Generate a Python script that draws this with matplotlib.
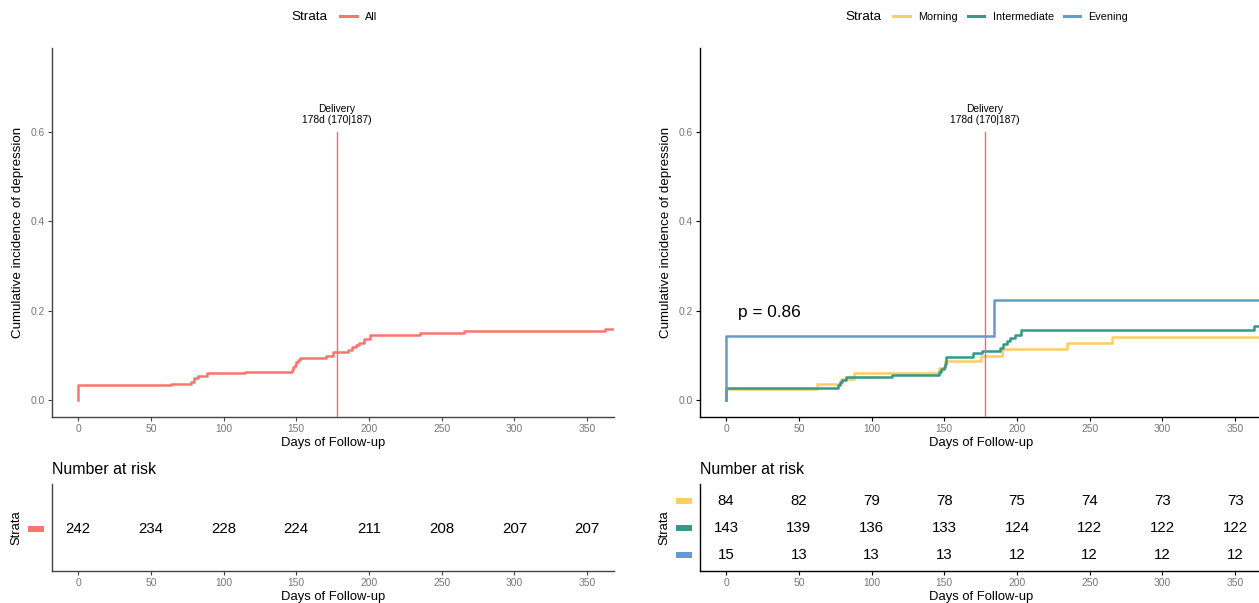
import numpy as np
import matplotlib
matplotlib.use('Agg')
import matplotlib.pyplot as plt
from matplotlib.lines import Line2D
from matplotlib.patches import Rectangle
from matplotlib.transforms import blended_transform_factory

plt.rcParams['font.family'] = ['Liberation Sans', 'DejaVu Sans']

# --- data ---
all_t = [0, 0, 63.5, 77.7, 79.4, 82.6, 88.4, 114.5, 147, 148, 149, 150, 151, 152.3,
         170.3, 175.5, 185.5, 188.4, 190.9, 193.4, 196.4, 200.9, 235.3, 265.1, 362.2, 368]
all_v = [0, 0.033, 0.037, 0.041, 0.050, 0.054, 0.060, 0.064, 0.068, 0.074, 0.079, 0.085, 0.090, 0.095,
         0.099, 0.107, 0.112, 0.120, 0.124, 0.128, 0.136, 0.146, 0.150, 0.155, 0.160, 0.160]

mor_t = [0, 0, 62.8, 79.2, 87.7, 146.6, 150.3, 175.2, 189.4, 234.6, 265.2, 368]
mor_v = [0, 0.024, 0.036, 0.048, 0.060, 0.071, 0.088, 0.099, 0.114, 0.128, 0.142, 0.142]

int_t = [0, 0, 77, 78.2, 80, 82.4, 114, 146.4, 148, 149.6, 150.5, 151, 151.5, 169.9, 176,
         188, 190.4, 192.9, 195.5, 198.5, 202.9, 363, 368]
int_v = [0, 0.028, 0.033, 0.040, 0.045, 0.051, 0.057, 0.063, 0.069, 0.075, 0.082, 0.089, 0.096, 0.105, 0.110,
         0.117, 0.125, 0.132, 0.140, 0.146, 0.158, 0.167, 0.167]

eve_t = [0, 0, 184.5, 368]
eve_v = [0, 0.143, 0.223, 0.223]

risk_times = [0, 50, 100, 150, 200, 250, 300, 350]
risk_all = [242, 234, 228, 224, 211, 208, 207, 207]
risk_mor = [84, 82, 79, 78, 75, 74, 73, 73]
risk_int = [143, 139, 136, 133, 124, 122, 122, 122]
risk_eve = [15, 13, 13, 13, 12, 12, 12, 12]

delivery_day = 178
delivery_label = 'Delivery\n178d (170|187)'
p_text = 'p = 0.86'

c_all = '#F8766D'
c_mor = '#FFCC66'
c_int = '#339988'
c_eve = '#6699CC'
gray_txt = '#777777'

W, H = 1259, 603
fig = plt.figure(figsize=(W / 100, H / 100), dpi=100)

def px_axes(l, t, w, h):
    return fig.add_axes([l / W, 1 - (t + h) / H, w / W, h / H])

ax1 = px_axes(52, 48, 562, 369)
ax2 = px_axes(700, 48, 562, 369)
rk1 = px_axes(52, 484, 562, 87)
rk2 = px_axes(700, 484, 562, 87)

xlim = (-18, 368.5)


def style_main(ax, spine_col):
    ax.set_xlim(*xlim)
    ax.set_ylim(-0.0375, 0.7875)
    for s in ['top', 'right']:
        ax.spines[s].set_visible(False)
    for s in ['left', 'bottom']:
        ax.spines[s].set_color(spine_col)
        ax.spines[s].set_linewidth(1.0)
    ax.set_xticks(risk_times)
    ax.set_yticks([0, 0.2, 0.4, 0.6])
    ax.set_yticklabels(['0.0', '0.2', '0.4', '0.6'])
    ax.tick_params(labelsize=7.4, labelcolor=gray_txt, length=3, pad=2, color=spine_col)
    ax.set_xlabel('Days of Follow-up', fontsize=9.4)
    ax.set_ylabel('Cumulative incidence of depression', fontsize=9.6)
    ax.xaxis.set_label_coords(0.5, -0.053)
    ax.yaxis.set_label_coords(-0.05, 0.5)
    ax.plot([delivery_day, delivery_day], [-0.0375, 0.6], color='#F26B6B', lw=1.0, zorder=4)
    ax.text(delivery_day, 0.615, delivery_label, ha='center', va='bottom',
            fontsize=7.4, linespacing=1.1)


style_main(ax1, '#444444')
style_main(ax2, 'black')

ax1.step(all_t, all_v, where='post', color=c_all, lw=1.8)
ax2.step(mor_t, mor_v, where='post', color=c_mor, lw=1.8)
ax2.step(int_t, int_v, where='post', color=c_int, lw=1.8)
ax2.step(eve_t, eve_v, where='post', color=c_eve, lw=1.8)
ax2.text(8, 0.197, p_text, ha='left', va='center', fontsize=12.4)


def style_risk(ax, rows, cols, spine_col):
    n = len(rows)
    ax.set_xlim(*xlim)
    ax.set_ylim(n + 0.6, 0.4)
    for s in ['top', 'right']:
        ax.spines[s].set_visible(False)
    for s in ['left', 'bottom']:
        ax.spines[s].set_color(spine_col)
        ax.spines[s].set_linewidth(1.0)
    ax.set_xticks(risk_times)
    ax.set_yticks([])
    ax.tick_params(labelsize=7.4, labelcolor=gray_txt, length=3, pad=2, color=spine_col)
    ax.set_xlabel('Days of Follow-up', fontsize=9.4)
    ax.xaxis.set_label_coords(0.5, -0.23)
    ax.set_ylabel('Strata', fontsize=9.4)
    ax.yaxis.set_label_coords(-0.052, 0.5)
    ax.text(0, 1.08, 'Number at risk', transform=ax.transAxes, ha='left', va='bottom', fontsize=11.5)
    ppu = 87 / (n + 0.2)
    h = 6 / ppu
    tr = blended_transform_factory(ax.transAxes, ax.transData)
    for i, (vals, c) in enumerate(zip(rows, cols)):
        r = i + 1.02
        for t, v in zip(risk_times, vals):
            ax.text(t, r, str(v), ha='center', va='center', fontsize=10.8)
        ax.add_patch(Rectangle((-24 / 562, r - h / 2), 16 / 562, h, transform=tr,
                               color=c, clip_on=False, lw=0))


style_risk(rk1, [risk_all], [c_all], '#444444')
style_risk(rk2, [risk_mor, risk_int, risk_eve], [c_mor, c_int, c_eve], 'black')

# legends: "Strata" label to the left of the entries
ly = 1 - 17 / H
fig.text(327 / W, ly, 'Strata', ha='right', va='center', fontsize=9.7)
fig.legend([Line2D([], [], color=c_all, lw=2.2)], ['All'], loc='center left',
           bbox_to_anchor=(335 / W, ly), frameon=False, fontsize=7.8, borderpad=0,
           handlelength=1.55, handletextpad=0.75)
fig.text(881 / W, ly, 'Strata', ha='right', va='center', fontsize=9.7)
fig.legend([Line2D([], [], color=c, lw=2.2) for c in [c_mor, c_int, c_eve]],
           ['Morning', 'Intermediate', 'Evening'], loc='center left',
           bbox_to_anchor=(888 / W, ly), frameon=False, fontsize=7.8, borderpad=0,
           handlelength=1.55, handletextpad=0.75, columnspacing=0.9, ncol=3)

fig.savefig('out.png', dpi=100)
